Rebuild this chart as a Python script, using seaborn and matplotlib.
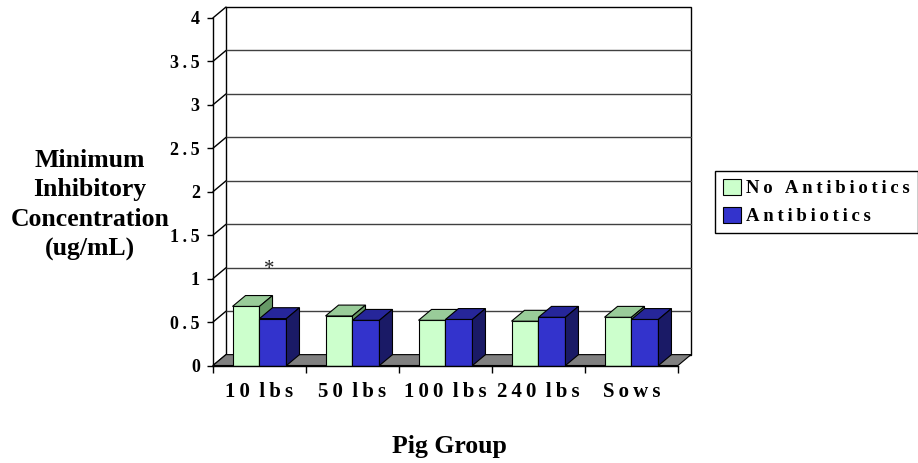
import matplotlib
matplotlib.use("Agg")
import matplotlib.pyplot as plt
from matplotlib.patches import Polygon, Patch, Rectangle
from matplotlib.colors import to_rgba
import pandas as pd
import seaborn as sns

# Mean MIC per pig group, with and without antibiotics in feed
groups = ["10 lbs", "50 lbs", "100 lbs", "240 lbs", "Sows"]
no_antibiotics = [0.68, 0.57, 0.52, 0.51, 0.555]
antibiotics = [0.54, 0.52, 0.53, 0.555, 0.53]
series_names = ["No Antibiotics", "Antibiotics"]
y_ticks = [0, 0.5, 1, 1.5, 2, 2.5, 3, 3.5, 4]

sns.set_theme(style="white")
plt.rcParams["font.family"] = ["Liberation Serif", "DejaVu Serif"]
plt.rcParams.update({"text.color": "black", "axes.labelcolor": "black",
                     "xtick.color": "black", "ytick.color": "black"})

THIN = "\u2009"


def spaced(s, word_gap=None):
    """Mimic the wide letter spacing of the labels."""
    if word_gap is None:
        return THIN.join(s)
    return word_gap.join(THIN.join(word) for word in s.split(" "))


df = pd.DataFrame({
    "group": groups * 2,
    "treatment": [series_names[0]] * len(groups) + [series_names[1]] * len(groups),
    "value": no_antibiotics + antibiotics,
})

front = {series_names[0]: "#CCFFCC", series_names[1]: "#3333CC"}
top_col = {series_names[0]: "#99CC99", series_names[1]: "#26269A"}
side_col = {series_names[0]: "#669966", series_names[1]: "#1A1A66"}
layer = {series_names[0]: 3, series_names[1]: 4}

# depth of the pseudo-3D box, in data units
DX, DY = 0.14, 0.125

fig = plt.figure(figsize=(9.18, 4.63), dpi=100)
W, H = 918, 463
ax = fig.add_axes([213 / W, (H - 365.5) / H, 478 / W, 358.5 / H])

sns.barplot(data=df, x="group", y="value", hue="treatment",
            order=groups, hue_order=series_names,
            palette=[front[s] for s in series_names], saturation=1,
            width=0.58, gap=0, errorbar=None, edgecolor="black",
            linewidth=0.8, legend=False, ax=ax)

ax.set_xlim(-0.5, 4.5 + DX)
ax.set_ylim(0, 4 + DY)

# back wall with its gridlines
ax.add_patch(Rectangle((-0.5 + DX, DY), 5, 4, facecolor="white",
                       edgecolor="black", lw=1.0, zorder=0.5, clip_on=False))
for v in y_ticks[1:-1]:
    ax.plot([-0.5 + DX, 4.5 + DX], [v + DY, v + DY], color="#404040",
            lw=1.0, zorder=0.6, clip_on=False)
# side wall lines
for v in y_ticks:
    ax.plot([-0.5, -0.5 + DX], [v, v + DY], color="black", lw=1.0,
            zorder=0.7, clip_on=False)
# floor
ax.add_patch(Polygon([(-0.5, 0), (4.5, 0), (4.5 + DX, DY), (-0.5 + DX, DY)],
                     closed=True, facecolor="#808080", edgecolor="black",
                     lw=0.8, zorder=1, clip_on=False))

# give each bar a top and a side face
for p in list(ax.patches):
    if not isinstance(p, Rectangle) or p.get_height() <= 0 or p.get_width() > 1:
        continue
    fc = p.get_facecolor()
    name = None
    for s in series_names:
        if all(abs(a - b) < 0.01 for a, b in zip(fc, to_rgba(front[s]))):
            name = s
    if name is None:
        continue
    x0, w, h = p.get_x(), p.get_width(), p.get_height()
    x1 = x0 + w
    z = layer[name]
    p.set_zorder(z)
    ax.add_patch(Polygon([(x0, h), (x1, h), (x1 + DX, h + DY), (x0 + DX, h + DY)],
                         closed=True, facecolor=top_col[name],
                         edgecolor="black", lw=0.8, zorder=z))
    ax.add_patch(Polygon([(x1, 0), (x1 + DX, DY), (x1 + DX, h + DY), (x1, h)],
                         closed=True, facecolor=side_col[name],
                         edgecolor="black", lw=0.8, zorder=z))

# significance marker over the 10 lbs group
ax.text(0.10, 1.05, "*", fontsize=15, ha="center", va="baseline",
        color="#222222", zorder=6)

# axes: front value axis and category axis
for s in ["top", "right"]:
    ax.spines[s].set_visible(False)
ax.spines["left"].set_bounds(0, 4)
ax.spines["bottom"].set_bounds(-0.5, 4.5)
for s in ["left", "bottom"]:
    ax.spines[s].set_color("black")
    ax.spines[s].set_linewidth(1.0)
    ax.spines[s].set_zorder(5)

ax.set_yticks(y_ticks)
ax.set_yticklabels([spaced(f"{v:g}") for v in y_ticks],
                   fontsize=13, fontweight="bold")
ax.tick_params(axis="y", left=True, length=4.5, width=1, color="black", pad=5)

ax.set_xticks(range(len(groups)))
ax.set_xticklabels([spaced(g, word_gap=THIN + " ") for g in groups],
                   fontsize=15, fontweight="bold")
ax.set_xticks([i - 0.5 for i in range(len(groups) + 1)], minor=True)
ax.tick_params(axis="x", which="major", bottom=True, length=0, pad=12)
ax.tick_params(axis="x", which="minor", bottom=True, length=5, width=1,
               color="black")
ax.set_xlabel("")
ax.set_ylabel("")

fig.text(90 / W, 1 - 205 / H, "Minimum\nInhibitory\nConcentration\n(ug/mL)",
         ha="center", va="center", multialignment="center",
         fontsize=18.5, fontweight="bold", linespacing=1.38)
fig.text(449 / W, 1 - 446 / H, "Pig Group", ha="center", va="center",
         fontsize=18.5, fontweight="bold")

handles = [Patch(facecolor=front[s], edgecolor="black", lw=0.8)
           for s in series_names]
leg = fig.legend(handles, [spaced(s) for s in series_names],
                 loc="upper left", bbox_to_anchor=(715 / W, 1 - 171 / H),
                 frameon=True, fancybox=False, edgecolor="black",
                 framealpha=1, handlelength=0.95, handleheight=0.95,
                 handletextpad=0.3, borderpad=0.42, labelspacing=0.5,
                 borderaxespad=0,
                 prop={"family": "Liberation Serif", "weight": "bold",
                       "size": 13.5})
leg.get_frame().set_linewidth(1.0)

fig.savefig("out.png", dpi=100)
